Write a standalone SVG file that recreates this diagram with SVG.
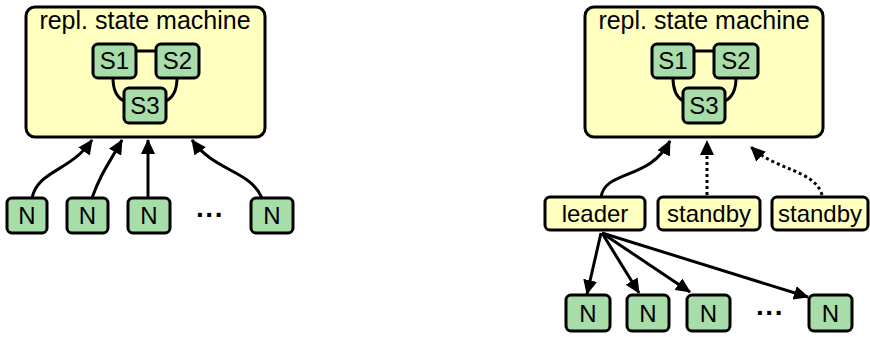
<svg xmlns="http://www.w3.org/2000/svg" width="870" height="337" viewBox="0 0 870 337">
<style>
.big{fill:#ffffc0;stroke:#000;stroke-width:3}
.y{fill:#ffffc0;stroke:#000;stroke-width:3}
.g{fill:#a8dca8;stroke:#000;stroke-width:3}
.t{font-family:"Liberation Sans",Arial,sans-serif;font-size:24px;fill:#000;text-anchor:middle}
.tt{font-family:"Liberation Sans",Arial,sans-serif;font-size:25px;fill:#000;text-anchor:middle}
.c{fill:none;stroke:#000;stroke-width:3}
.d{fill:none;stroke:#000;stroke-width:3;stroke-dasharray:3 3}
.dots{font-family:"Liberation Sans",Arial,sans-serif;font-size:28px;font-weight:bold;text-anchor:middle}
</style>
<defs>
<marker id="ah" markerUnits="userSpaceOnUse" markerWidth="16" markerHeight="14" refX="14" refY="7" orient="auto">
<path d="M0,0 L15,7 L0,14 z" fill="#000"/>
</marker>
</defs>

<g id="sm-left">
<rect class="big" x="26" y="7" width="239" height="130" rx="9"/>
<text class="tt" x="145" y="29">repl. state machine</text>
<path class="c" d="M136,51 L156,51 M113,78 C113,92 118,98 124,101 M177,78 C177,92 172,98 166,101"/>
<rect class="g" x="93" y="44" width="43" height="34" rx="5"/><text class="t" x="114.5" y="69">S1</text>
<rect class="g" x="156" y="44" width="43" height="34" rx="5"/><text class="t" x="177.5" y="69">S2</text>
<rect class="g" x="124" y="88" width="42" height="35" rx="5"/><text class="t" x="145" y="114">S3</text>
</g>

<g id="n-l1"><rect class="g" x="7" y="198" width="40" height="35" rx="5"/><text class="t" x="27" y="224">N</text></g>
<g id="n-l2"><rect class="g" x="67" y="198" width="41" height="35" rx="5"/><text class="t" x="87.5" y="224">N</text></g>
<g id="n-l3"><rect class="g" x="128" y="198" width="42" height="35" rx="5"/><text class="t" x="149" y="224">N</text></g>
<g id="n-l4"><rect class="g" x="251" y="198" width="42" height="35" rx="5"/><text class="t" x="272" y="224">N</text></g>
<text class="dots" x="210" y="224">···</text>

<g id="sm-right">
<rect class="big" x="585" y="7" width="238" height="130" rx="9"/>
<text class="tt" x="704" y="29">repl. state machine</text>
<path class="c" d="M694,51 L714,51 M673,78 C673,92 678,98 683,101 M736,78 C736,92 731,98 725,101"/>
<rect class="g" x="652" y="44" width="42" height="34" rx="5"/><text class="t" x="673" y="69">S1</text>
<rect class="g" x="714" y="44" width="44" height="34" rx="5"/><text class="t" x="736" y="69">S2</text>
<rect class="g" x="683" y="88" width="42" height="35" rx="5"/><text class="t" x="704" y="114">S3</text>
</g>

<g id="leader"><rect class="y" x="545" y="197" width="100" height="33" rx="5"/><text class="t" x="595" y="222">leader</text></g>
<g id="standby1"><rect class="y" x="658" y="197" width="102" height="33" rx="5"/><text class="t" x="709" y="222">standby</text></g>
<g id="standby2"><rect class="y" x="772" y="197" width="96" height="33" rx="5"/><text class="t" x="820" y="222">standby</text></g>

<g id="n-r1"><rect class="g" x="566" y="295" width="44" height="36" rx="5"/><text class="t" x="588" y="322">N</text></g>
<g id="n-r2"><rect class="g" x="627" y="295" width="42" height="36" rx="5"/><text class="t" x="648" y="322">N</text></g>
<g id="n-r3"><rect class="g" x="687" y="295" width="43" height="36" rx="5"/><text class="t" x="708.5" y="322">N</text></g>
<g id="n-r4"><rect class="g" x="809" y="295" width="43" height="36" rx="5"/><text class="t" x="830.5" y="322">N</text></g>
<text class="dots" x="770" y="322">···</text>

<g id="connectors">
<path class="c" marker-end="url(#ah)" d="M32,198 C38,170 70,172 92,140"/>
<path class="c" marker-end="url(#ah)" d="M92,198 C100,175 108,165 122,140"/>
<path class="c" marker-end="url(#ah)" d="M148,198 L148,140"/>
<path class="c" marker-end="url(#ah)" d="M262,198 C250,170 215,172 192,140"/>
<path class="c" marker-end="url(#ah)" d="M601,197 C605,170 650,180 670,141"/>
<path class="d" marker-end="url(#ah)" d="M707,195 L707,141"/>
<path class="d" marker-end="url(#ah)" d="M822,195 C815,170 775,170 751,147"/>
<path class="c" marker-end="url(#ah)" d="M601,233 L587,294"/>
<path class="c" marker-end="url(#ah)" d="M602,233 L639,293"/>
<path class="c" marker-end="url(#ah)" d="M602,233 L690,292"/>
<path class="c" marker-end="url(#ah)" d="M602,233 L808,297"/>
</g>
</svg>
